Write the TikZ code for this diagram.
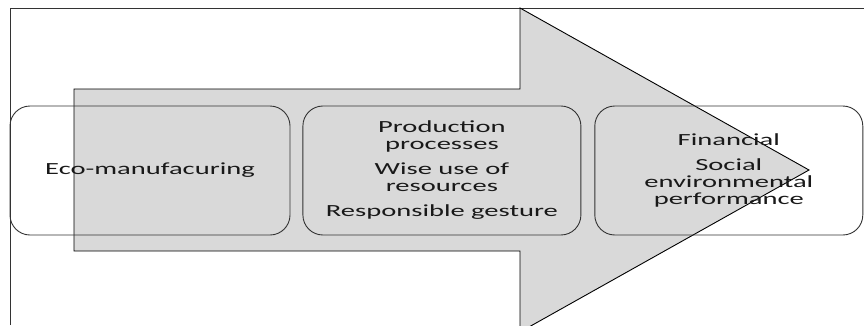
\documentclass[tikz,border=0pt]{standalone}
\usepackage{fontspec}
\newfontfamily\stagefont[FakeStretch=1.68]{Carlito}
\usepackage{tikz}
\usetikzlibrary{positioning}
\tikzset{% styles for the stages and the arrow
	stage/.style={draw=black!80, line width=0.9pt, rounded corners=20pt,
		align=center, inner sep=0pt, minimum height=129pt,
		text=black!90, font=\stagefont\fontsize{17}{17}\selectfont},
	bigarrow/.style={draw=black, fill=black!15, line width=0.9pt},
	frameline/.style={draw=black!80, line width=1pt},
}

\begin{document}
\begin{tikzpicture}[x=1pt, y=-1pt]
	\useasboundingbox (0,0) rectangle (864,325);
	\clip (0,0) rectangle (864,325);
	% outer frame
	\draw[frameline] (10,325) -- (10,8) -- (864,8);
	% big arrow behind the stages
	\draw[bigarrow] (74,89) -- (520,89) -- (520,8) -- (809,170) --
		(520,332) -- (520,251) -- (74,251) -- cycle;
	% the three stages
	\node[stage, minimum width=280pt] (eco) at (150,170.5) {Eco-manufacuring};
	\node[stage, minimum width=278pt, right=12pt of eco] (proc)
		{Production\\processes\\[8pt]Wise use of\\resources\\[8pt]Responsible gesture};
	\node[stage, minimum width=268pt, right=13pt of proc] (perf)
		{Financial\\[8pt]Social\\environmental\\performance};
\end{tikzpicture}
\end{document}
